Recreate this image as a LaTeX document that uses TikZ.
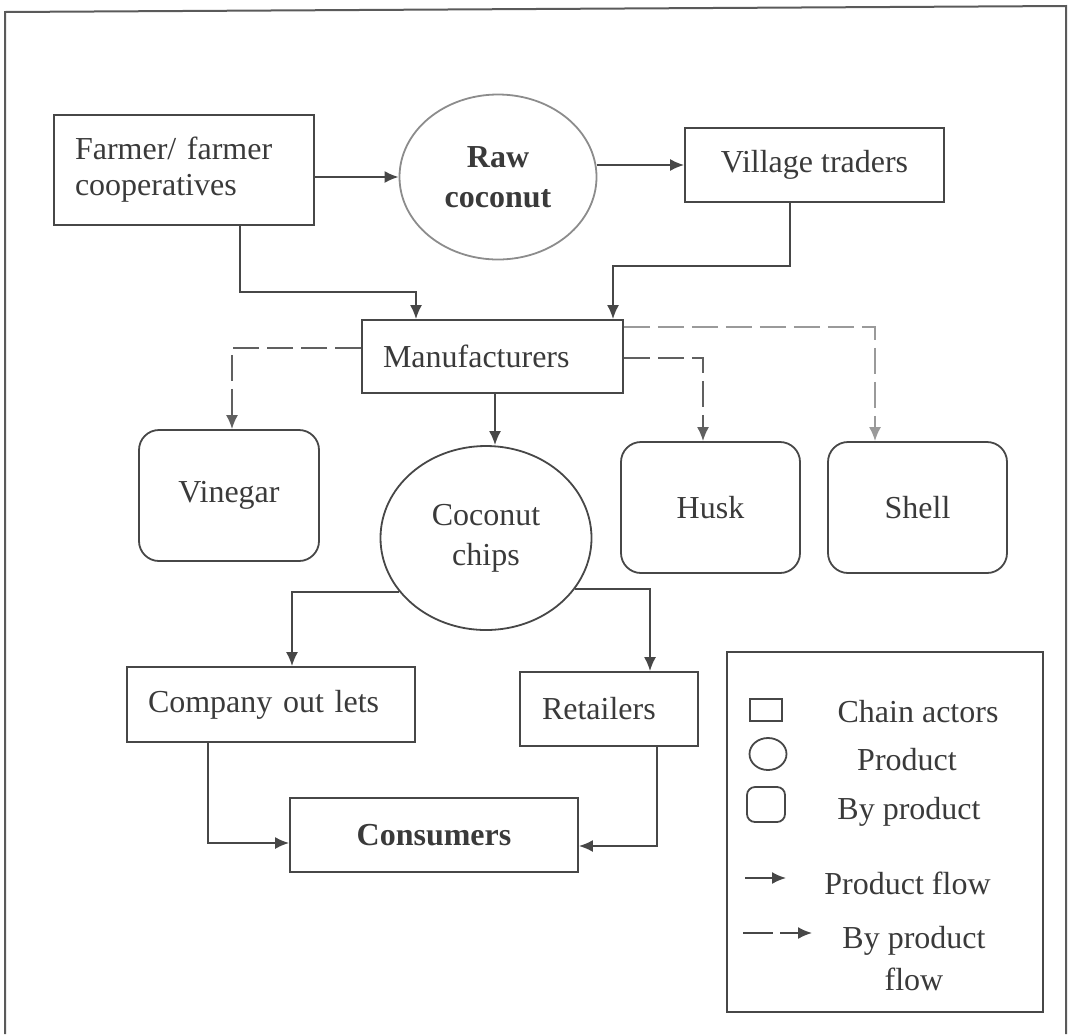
\documentclass[tikz,border=0pt]{standalone}
\usepackage{fontspec}
\setmainfont{Liberation Serif}
\usetikzlibrary{arrows.meta,shapes.geometric}
\definecolor{ink}{HTML}{3A3A3A}
\definecolor{linec}{HTML}{474747}
\definecolor{softl}{HTML}{8C8C8C}
\definecolor{dashc}{HTML}{606060}
\definecolor{dashl}{HTML}{9A9A9A}
\definecolor{framec}{HTML}{5A5A5A}
\newcommand\dgfont{\fontsize{16}{20}\selectfont}
\begin{document}
\begin{tikzpicture}[x=0.5pt,y=-0.5pt,
  every node/.style={text=ink, font=\dgfont},
  actor/.style={draw=linec, line width=0.9pt, rectangle, inner sep=0pt},
  product/.style={draw=linec, line width=0.9pt, ellipse, inner sep=0pt, align=center},
  byprod/.style={draw=linec, line width=0.9pt, rectangle, rounded corners=10pt, inner sep=0pt},
  flow/.style={draw=linec, line width=0.9pt, -{Latex[length=7pt,width=6pt]}},
  bflow/.style={draw=dashc, line width=0.9pt, dash pattern=on 13pt off 4pt, -{Latex[length=7pt,width=6pt]}},
  lbl/.style={inner sep=0pt}
]
\useasboundingbox (0,0) rectangle (1069,1034);
% outer frame
\draw[framec, line width=1pt] (5,1034) -- (5,12) -- (1066,6) -- (1066,1034);

% chain actors
\node[actor, text width=109pt, inner xsep=10.5pt, minimum height=55pt, align=left,
      font=\fontsize{16}{18}\selectfont] (farmer) at (184,170) {Farmer/ farmer\\cooperatives};
\node[product, draw=softl, minimum width=98.5pt, minimum height=82.5pt,
      font=\fontsize{16}{20}\selectfont\bfseries] (raw) at (498,177) {Raw\\coconut};
\node[actor, minimum width=129.5pt, minimum height=37pt] (village) at (814.5,165) {Village traders};
\node[actor, text width=109.5pt, inner xsep=10.5pt, minimum height=36.5pt, align=left] (manu) at (492.5,356.5) {Manufacturers};

% products and by-products
\node[byprod, minimum width=90pt, minimum height=65.5pt] (vinegar) at (229,495.5) {Vinegar};
\node[product, minimum width=105.5pt, minimum height=92pt] (chips) at (486,538) {Coconut\\chips};
\node[byprod, minimum width=89.5pt, minimum height=65.5pt] (husk) at (710.5,507.5) {Husk};
\node[byprod, minimum width=89.5pt, minimum height=65.5pt] (shell) at (917.5,507.5) {Shell};

% downstream
\node[actor, text width=123pt, inner xsep=10.5pt, minimum height=37.5pt, align=left] (company) at (271,704.5) {Company out lets};
\node[actor, text width=67pt, inner xsep=11pt, minimum height=37pt, align=left] (retailers) at (609,709) {Retailers};
\node[actor, minimum width=144pt, minimum height=37pt, font=\dgfont\bfseries] (consumers) at (434,835) {Consumers};

% helper coordinates
\coordinate (f1) at (240,292);
\coordinate (f2) at (416,292);
\coordinate (v1) at (790,266);
\coordinate (v2) at (613,266);
\coordinate (c1) at (495,400);
\coordinate (d1) at (232,348);
\coordinate (d2) at (703,358);
\coordinate (d3) at (875,327);
\coordinate (k1) at (292,600);
\coordinate (k2) at (650,600);
\coordinate (k3) at (208,800);
\coordinate (k4) at (657,800);

% product flows
\draw[flow] (farmer.east |- raw.west) -- (raw.west);
\draw[flow] (raw.east |- village.west) -- (village.west);
\draw[flow] (farmer.south -| f1) -- (f1) -- (f2) -- (f2 |- manu.north);
\draw[flow] (village.south -| v1) -- (v1) -- (v2) -- (v2 |- manu.north);
\draw[flow] (manu.south -| c1) -- (c1 |- chips.north);
\draw[flow] (chips.212) -| (k1 |- company.north);
\draw[flow] (chips.330) -| (k2 |- retailers.north);
\draw[flow] (company.south -| k3) |- ([yshift=-4pt]consumers.west);
\draw[flow] (retailers.south -| k4) |- ([yshift=-5.5pt]consumers.east);

% by-product flows
\draw[bflow] (manu.west |- d1) -- (d1) -- (d1 |- vinegar.north);
\draw[bflow] (manu.east |- d2) -- (d2) -- (d2 |- husk.north);
\draw[bflow, draw=dashl] (manu.east |- d3) -- (d3) -- (d3 |- shell.north);

% legend
\node[draw=linec, line width=0.9pt, rectangle, minimum width=158pt, minimum height=180pt, inner sep=0pt] (legend) at (885,832) {};
\node[actor, minimum width=16pt, minimum height=11pt] (lgactor) at (766,710) {};
\node[product, minimum width=18.5pt, minimum height=16pt] (lgprod) at (768,754) {};
\node[byprod, rounded corners=4pt, minimum width=19pt, minimum height=17.5pt] (lgby) at (766,804.5) {};
\coordinate (la1) at (745,878);
\coordinate (la2) at (786,878);
\coordinate (lb1) at (743,933);
\coordinate (lb2) at (812,933);
\draw[flow] (la1) -- (la2);
\draw[draw=linec, line width=0.9pt, dash pattern=on 15pt off 3.5pt, -{Latex[length=7pt,width=6pt]}] (lb1) -- (lb2);
\node[lbl] (lt1) at (918,712) {Chain actors};
\node[lbl] (lt2) at (907,760) {Product};
\node[lbl] (lt3) at (909,812) {By product};
\node[lbl] (lt4) at (907.5,883) {Product flow};
\node[lbl, align=center, font=\fontsize{16}{21}\selectfont] (lt5) at (914,959) {By product\\flow};
\end{tikzpicture}
\end{document}
